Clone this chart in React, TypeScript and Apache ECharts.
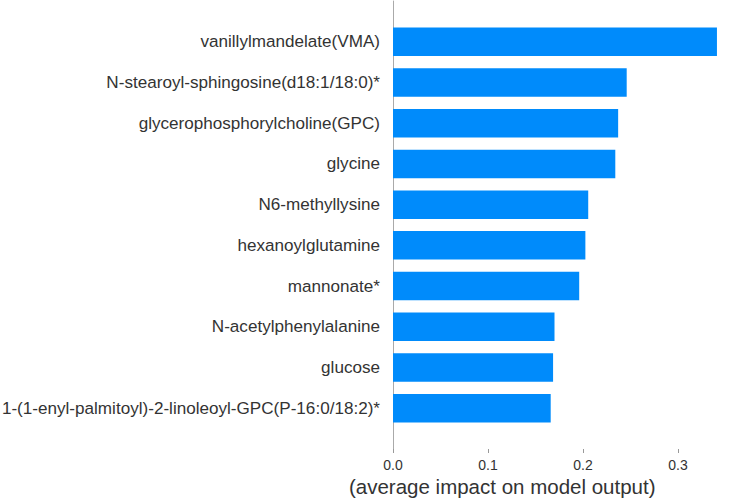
import React, { useEffect, useRef } from "react";
import * as echarts from "echarts";

const categories = [
  "vanillylmandelate(VMA)",
  "N-stearoyl-sphingosine(d18:1/18:0)*",
  "glycerophosphorylcholine(GPC)",
  "glycine",
  "N6-methyllysine",
  "hexanoylglutamine",
  "mannonate*",
  "N-acetylphenylalanine",
  "glucose",
  "1-(1-enyl-palmitoyl)-2-linoleoyl-GPC(P-16:0/18:2)*",
];

const meanAbsShap = [0.341, 0.246, 0.237, 0.234, 0.2055, 0.2025, 0.196, 0.170, 0.1685, 0.166];

const xTicks = [0, 0.1, 0.2, 0.3];
const xAxisTitle = "(average impact on model output)";

export default function App() {
  const ref = useRef<HTMLDivElement>(null);

  useEffect(() => {
    if (!ref.current) return;
    const chart = echarts.init(ref.current, undefined, { renderer: "svg" });
    const yData = ["", ...categories, ""];
    const sData: (number | null)[] = [null, ...meanAbsShap, null];
    chart.setOption({
      animation: false,
      backgroundColor: "#ffffff",
      grid: {
        left: 393,
        right: 4.5,
        top: 1,
        bottom: 49,
        containLabel: false,
        outerBoundsMode: "none",
      },
      xAxis: {
        type: "value",
        min: 0,
        max: 0.37,
        interval: 0.1,
        name: xAxisTitle,
        nameLocation: "middle",
        nameGap: 27.5,
        nameMoveOverlap: false,
        nameTextStyle: {
          fontFamily: "Liberation Sans, Arial, sans-serif",
          fontSize: 20.5,
          lineHeight: 19,
          color: "#333333",
          padding: [0, 133, 0, 0],
        },
        axisLine: { show: false },
        axisTick: {
          show: true,
          length: 4,
          customValues: xTicks,
          lineStyle: { color: "#999999", width: 1 },
        },
        axisLabel: {
          customValues: xTicks,
          formatter: (v: number) => v.toFixed(1),
          fontFamily: "Liberation Sans, Arial, sans-serif",
          fontSize: 14,
          lineHeight: 12,
          color: "#333333",
          margin: 10,
        },
        splitLine: { show: false },
      },
      yAxis: {
        type: "category",
        inverse: true,
        boundaryGap: false,
        data: yData,
        axisLine: { show: true, lineStyle: { color: "#aaaaaa", width: 1 } },
        axisTick: { show: false },
        axisLabel: {
          fontFamily: "Liberation Sans, Arial, sans-serif",
          fontSize: 17.1,
          color: "#333333",
          margin: 13,
          interval: 0,
        },
        splitLine: { show: false },
      },
      series: [
        {
          type: "bar",
          data: sData,
          barWidth: "70%",
          itemStyle: { color: "#008bfb" },
        },
      ],
    });
    return () => chart.dispose();
  }, []);

  return (
    <div
      ref={ref}
      style={{ position: "fixed", left: 0, top: 0, width: 749, height: 498 }}
    />
  );
}
